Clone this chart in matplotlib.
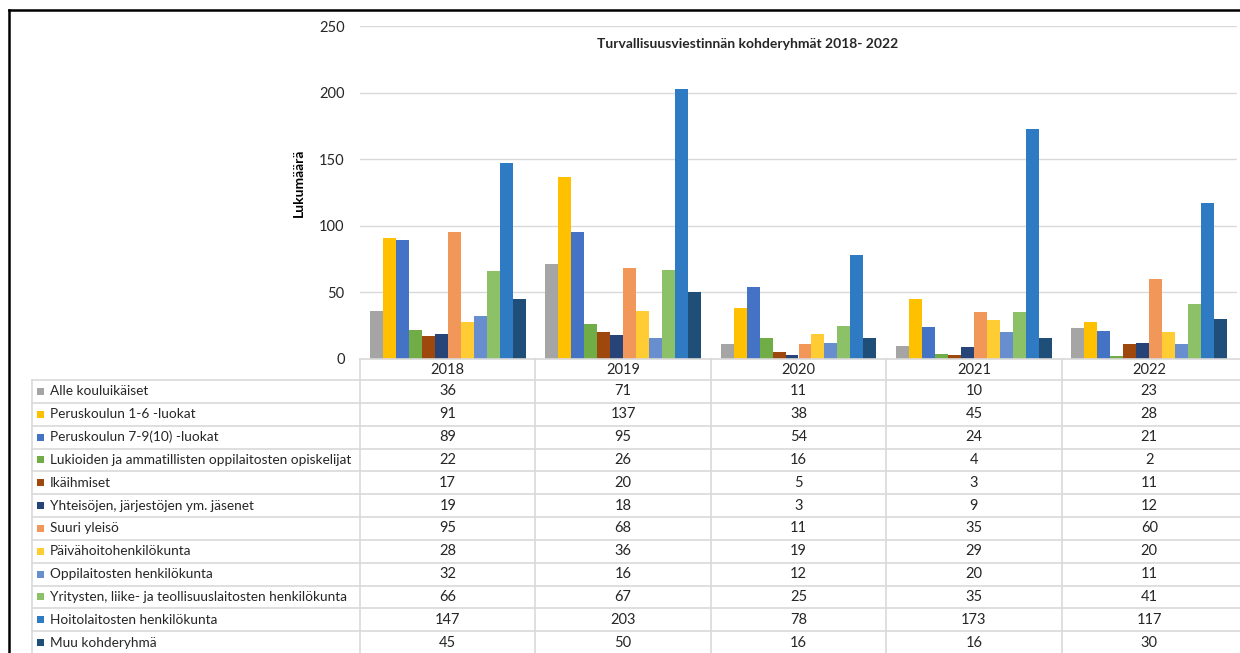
"""Turvallisuusviestinnän kohderyhmät 2018-2022: column chart with data table."""

import matplotlib

matplotlib.use("Agg")

import matplotlib.pyplot as plt
import numpy as np

years = ["2018", "2019", "2020", "2021", "2022"]
groups = [
    "Alle kouluikäiset",
    "Peruskoulun 1-6 -luokat",
    "Peruskoulun 7-9(10) -luokat",
    "Lukioiden ja ammatillisten oppilaitosten opiskelijat",
    "Ikäihmiset",
    "Yhteisöjen, järjestöjen ym. jäsenet",
    "Suuri yleisö",
    "Päivähoitohenkilökunta",
    "Oppilaitosten henkilökunta",
    "Yritysten, liike- ja teollisuuslaitosten henkilökunta",
    "Hoitolaitosten henkilökunta",
    "Muu kohderyhmä",
]
alle = [36, 71, 11, 10, 23]
perus_1_6 = [91, 137, 38, 45, 28]
perus_7_9 = [89, 95, 54, 24, 21]
lukiot = [22, 26, 16, 4, 2]
ikaihmiset = [17, 20, 5, 3, 11]
yhteisot = [19, 18, 3, 9, 12]
suuri_yleiso = [95, 68, 11, 35, 60]
paivahoito = [28, 36, 19, 29, 20]
oppilaitokset = [32, 16, 12, 20, 11]
yritykset = [66, 67, 25, 35, 41]
hoitolaitokset = [147, 203, 78, 173, 117]
muu = [45, 50, 16, 16, 30]
values = [alle, perus_1_6, perus_7_9, lukiot, ikaihmiset, yhteisot,
          suuri_yleiso, paivahoito, oppilaitokset, yritykset, hoitolaitokset, muu]
y_ticks = [0, 50, 100, 150, 200, 250]

colors = ["#A5A5A5", "#FFC000", "#4472C4", "#70AD47", "#9E480E", "#264478",
          "#F1975A", "#FFCD33", "#698ED0", "#8CC168", "#2F7BC3", "#1F4E79"]

plt.rcParams["font.family"] = ["Lato", "DejaVu Sans"]

W, H = 1240, 653
fig = plt.figure(figsize=(W / 100, H / 100), dpi=100)

# pixel layout of the chart area
x0, x1 = 360, 1237
y_top, y_zero = 26, 359
ax = fig.add_axes([x0 / W, 1 - y_zero / H, (x1 - x0) / W, (y_zero - y_top) / H])

n = len(groups)
bw = 0.889 / n
x = np.arange(len(years))
for j, (vals, c) in enumerate(zip(values, colors)):
    ax.bar(x + (j - (n - 1) / 2) * bw, vals, width=bw, color=c, linewidth=0, zorder=3)

ax.set_xlim(-0.5, len(years) - 0.5)
ax.set_ylim(0, 250)
ax.set_yticks(y_ticks)
ax.set_xticks([])
ax.grid(axis="y", color="#D9D9D9", linewidth=1, zorder=0)
for s in ax.spines.values():
    s.set_visible(False)
ax.tick_params(axis="y", length=0, pad=11, labelsize=10.5, labelcolor="#262626")
ax.set_ylabel("Lukumäärä", fontsize=10, fontweight="bold")
ax.yaxis.set_label_coords(-0.063, 0.53)

fig.text(748 / W, 1 - 44 / H, "Turvallisuusviestinnän kohderyhmät 2018- 2022",
         ha="center", va="center", fontsize=10, fontweight="bold", color="#262626")

# data table, drawn in pixel coordinates
tb = fig.add_axes([0, 0, 1, 1])
tb.set_xlim(0, W)
tb.set_ylim(H, 0)
tb.set_axis_off()

line_c = "#D9D9D9"
col_w = (x1 - x0) / len(years)
col_edges = [x0 + i * col_w for i in range(len(years))]
head_bot = 380
row_h = (654 - head_bot) / n
label_left = 32

tb.plot([x0, W], [y_zero, y_zero], color=line_c, lw=1.2)
for i in range(n + 1):
    yy = head_bot + i * row_h
    tb.plot([label_left, W], [yy, yy], color=line_c, lw=1.2)
tb.plot([label_left, label_left], [head_bot, H], color=line_c, lw=1.2)
for xe in col_edges:
    tb.plot([xe, xe], [y_zero, H], color=line_c, lw=1.2)

for k, yr in enumerate(years):
    tb.text(x0 + (k + 0.5) * col_w, (y_zero + head_bot) / 2 + 1, yr,
            ha="center", va="center", fontsize=10.5, color="#262626")

for i, (name, vals, c) in enumerate(zip(groups, values, colors)):
    yc = head_bot + (i + 0.5) * row_h
    tb.add_patch(plt.Rectangle((37, yc - 3.5), 7, 7, color=c, lw=0))
    tb.text(50, yc, name, ha="left", va="center", fontsize=9.8, color="#262626")
    for k, v in enumerate(vals):
        tb.text(x0 + (k + 0.5) * col_w, yc, str(v), ha="center", va="center",
                fontsize=10.5, color="#262626")

# outer frame (top and left edges visible)
tb.plot([9, W], [10, 10], color="black", lw=1.8)
tb.plot([9, 9], [10, H], color="black", lw=1.8)

fig.savefig("out.png", dpi=100)
